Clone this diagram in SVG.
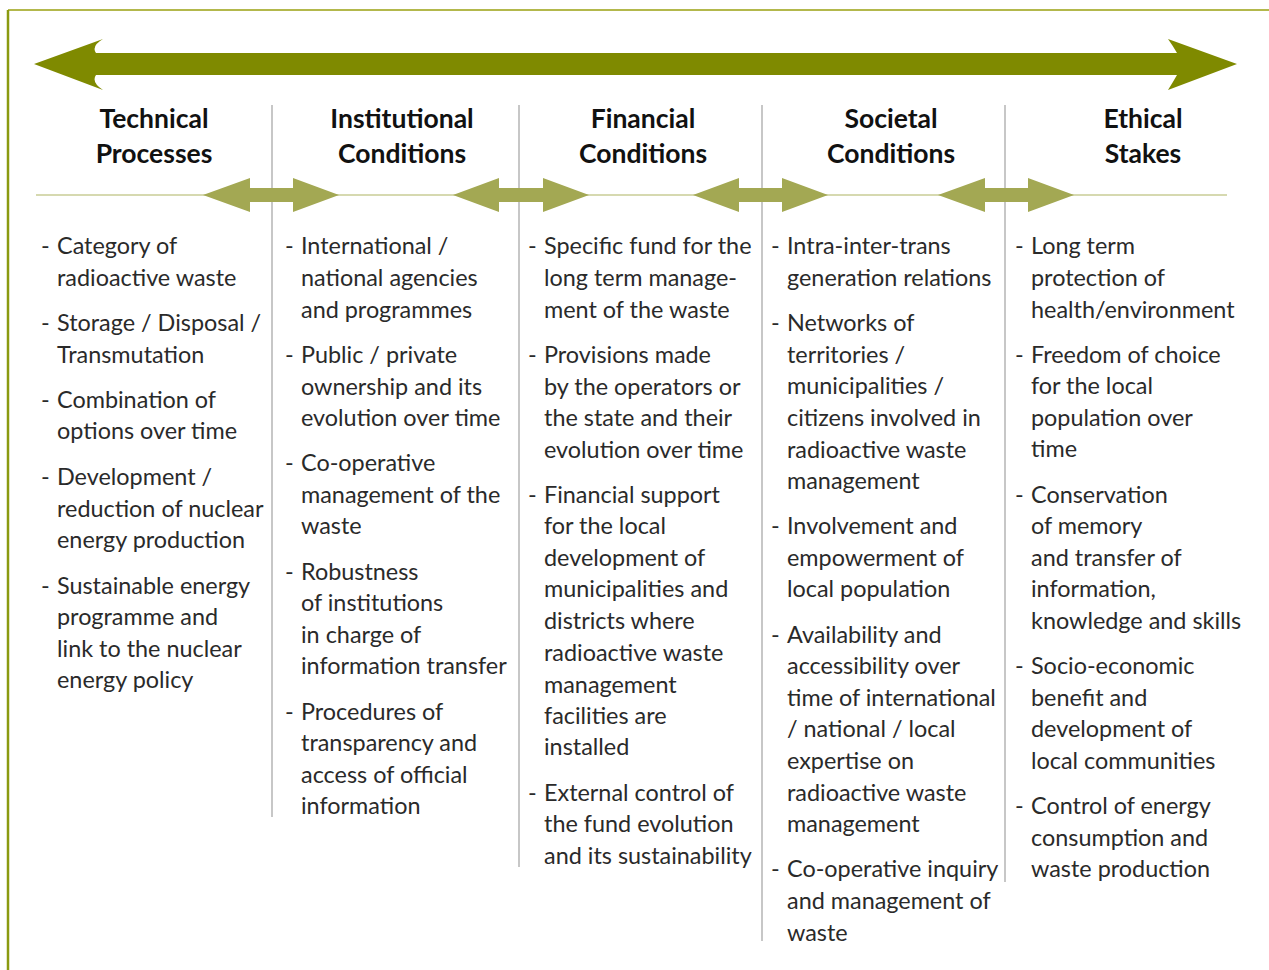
<svg xmlns="http://www.w3.org/2000/svg" width="1269" height="970" viewBox="0 0 1269 970">
<style>
.h{font-family:Lato,"Liberation Sans",sans-serif;font-weight:700;font-size:26.5px;fill:#111;text-anchor:middle}
.t{font-family:Lato,"Liberation Sans",sans-serif;font-weight:400;font-size:23.4px;fill:#2a2a2a}
.div{stroke:#b4b4b4;stroke-width:1.5}
.sa{fill:#a3a853}
</style>
<rect width="1269" height="970" fill="#fff"/>
<g id="frame">
<line x1="8" y1="10" x2="1269" y2="10" stroke="#9aa010" stroke-width="1.5"/>
<line x1="8" y1="10" x2="8" y2="970" stroke="#8a9a10" stroke-width="2.5"/>
</g>
<g id="connectors">
<path d="M34,64 L103,39 Q91,46 96,53 L1177,53 Q1173,46 1168,39 L1237,64 L1168,90 Q1173,82 1177,75 L96,75 Q91,82 103,90 Z" fill="#7f8a00"/>
<line x1="36" y1="195" x2="1227" y2="195" stroke="#c9cd96" stroke-width="1.5"/>
<line class="div" x1="272" y1="105" x2="272" y2="817"/>
<line class="div" x1="519" y1="105" x2="519" y2="867"/>
<line class="div" x1="762" y1="105" x2="762" y2="941"/>
<line class="div" x1="1005" y1="105" x2="1005" y2="882"/>
<path class="sa" d="M203,195 L250,178 L250,188 L293,188 L293,178 L339,195 L293,212 L293,202 L250,202 L250,212 Z"/>
<path class="sa" d="M453,195 L499,178 L499,188 L543,188 L543,178 L589,195 L543,212 L543,202 L499,202 L499,212 Z"/>
<path class="sa" d="M693,195 L739,178 L739,188 L782,188 L782,178 L828,195 L782,212 L782,202 L739,202 L739,212 Z"/>
<path class="sa" d="M938,195 L985,178 L985,188 L1028,188 L1028,178 L1074,195 L1028,212 L1028,202 L985,202 L985,212 Z"/>
</g>
<g id="technical">
<text class="h"><tspan x="154" y="128">Technical</tspan><tspan x="154" y="163">Processes</tspan></text>
<text class="t">
<tspan x="41" y="254">-</tspan><tspan x="57" y="254">Category of</tspan><tspan x="57" y="286">radioactive waste</tspan>
<tspan x="41" y="331">-</tspan><tspan x="57" y="331">Storage / Disposal /</tspan><tspan x="57" y="363">Transmutation</tspan>
<tspan x="41" y="408">-</tspan><tspan x="57" y="408">Combination of</tspan><tspan x="57" y="439">options over time</tspan>
<tspan x="41" y="485">-</tspan><tspan x="57" y="485">Development /</tspan><tspan x="57" y="517">reduction of nuclear</tspan><tspan x="57" y="548">energy production</tspan>
<tspan x="41" y="594">-</tspan><tspan x="57" y="594">Sustainable energy</tspan><tspan x="57" y="625">programme and</tspan><tspan x="57" y="657">link to the nuclear</tspan><tspan x="57" y="688">energy policy</tspan>
</text>
</g>
<g id="institutional">
<text class="h"><tspan x="402" y="128">Institutional</tspan><tspan x="402" y="163">Conditions</tspan></text>
<text class="t">
<tspan x="285" y="254">-</tspan><tspan x="301" y="254">International /</tspan><tspan x="301" y="286">national agencies</tspan><tspan x="301" y="318">and programmes</tspan>
<tspan x="285" y="363">-</tspan><tspan x="301" y="363">Public / private</tspan><tspan x="301" y="395">ownership and its</tspan><tspan x="301" y="426">evolution over time</tspan>
<tspan x="285" y="471">-</tspan><tspan x="301" y="471">Co-operative</tspan><tspan x="301" y="503">management of the</tspan><tspan x="301" y="534">waste</tspan>
<tspan x="285" y="580">-</tspan><tspan x="301" y="580">Robustness</tspan><tspan x="301" y="611">of institutions</tspan><tspan x="301" y="643">in charge of</tspan><tspan x="301" y="674">information transfer</tspan>
<tspan x="285" y="720">-</tspan><tspan x="301" y="720">Procedures of</tspan><tspan x="301" y="751">transparency and</tspan><tspan x="301" y="783">access of official</tspan><tspan x="301" y="814">information</tspan>
</text>
</g>
<g id="financial">
<text class="h"><tspan x="643" y="128">Financial</tspan><tspan x="643" y="163">Conditions</tspan></text>
<text class="t">
<tspan x="528" y="254">-</tspan><tspan x="544" y="254">Specific fund for the</tspan><tspan x="544" y="286">long term manage-</tspan><tspan x="544" y="318">ment of the waste</tspan>
<tspan x="528" y="363">-</tspan><tspan x="544" y="363">Provisions made</tspan><tspan x="544" y="395">by the operators or</tspan><tspan x="544" y="426">the state and their</tspan><tspan x="544" y="458">evolution over time</tspan>
<tspan x="528" y="503">-</tspan><tspan x="544" y="503">Financial support</tspan><tspan x="544" y="534">for the local</tspan><tspan x="544" y="566">development of</tspan><tspan x="544" y="597">municipalities and</tspan><tspan x="544" y="629">districts where</tspan><tspan x="544" y="661">radioactive waste</tspan><tspan x="544" y="693">management</tspan><tspan x="544" y="724">facilities are</tspan><tspan x="544" y="755">installed</tspan>
<tspan x="528" y="801">-</tspan><tspan x="544" y="801">External control of</tspan><tspan x="544" y="832">the fund evolution</tspan><tspan x="544" y="864">and its sustainability</tspan>
</text>
</g>
<g id="societal">
<text class="h"><tspan x="891" y="128">Societal</tspan><tspan x="891" y="163">Conditions</tspan></text>
<text class="t">
<tspan x="771" y="254">-</tspan><tspan x="787" y="254">Intra-inter-trans</tspan><tspan x="787" y="286">generation relations</tspan>
<tspan x="771" y="331">-</tspan><tspan x="787" y="331">Networks of</tspan><tspan x="787" y="363">territories /</tspan><tspan x="787" y="394">municipalities /</tspan><tspan x="787" y="426">citizens involved in</tspan><tspan x="787" y="458">radioactive waste</tspan><tspan x="787" y="489">management</tspan>
<tspan x="771" y="534">-</tspan><tspan x="787" y="534">Involvement and</tspan><tspan x="787" y="566">empowerment of</tspan><tspan x="787" y="597">local population</tspan>
<tspan x="771" y="643">-</tspan><tspan x="787" y="643">Availability and</tspan><tspan x="787" y="674">accessibility over</tspan><tspan x="787" y="706">time of international</tspan><tspan x="787" y="737">/ national / local</tspan><tspan x="787" y="769">expertise on</tspan><tspan x="787" y="801">radioactive waste</tspan><tspan x="787" y="832">management</tspan>
<tspan x="771" y="877">-</tspan><tspan x="787" y="877">Co-operative inquiry</tspan><tspan x="787" y="909">and management of</tspan><tspan x="787" y="941">waste</tspan>
</text>
</g>
<g id="ethical">
<text class="h"><tspan x="1143" y="128">Ethical</tspan><tspan x="1143" y="163">Stakes</tspan></text>
<text class="t">
<tspan x="1015" y="254">-</tspan><tspan x="1031" y="254">Long term</tspan><tspan x="1031" y="286">protection of</tspan><tspan x="1031" y="318">health/environment</tspan>
<tspan x="1015" y="363">-</tspan><tspan x="1031" y="363">Freedom of choice</tspan><tspan x="1031" y="394">for the local</tspan><tspan x="1031" y="426">population over</tspan><tspan x="1031" y="457">time</tspan>
<tspan x="1015" y="503">-</tspan><tspan x="1031" y="503">Conservation</tspan><tspan x="1031" y="534">of memory</tspan><tspan x="1031" y="566">and transfer of</tspan><tspan x="1031" y="597">information,</tspan><tspan x="1031" y="629">knowledge and skills</tspan>
<tspan x="1015" y="674">-</tspan><tspan x="1031" y="674">Socio-economic</tspan><tspan x="1031" y="706">benefit and</tspan><tspan x="1031" y="737">development of</tspan><tspan x="1031" y="769">local communities</tspan>
<tspan x="1015" y="814">-</tspan><tspan x="1031" y="814">Control of energy</tspan><tspan x="1031" y="846">consumption and</tspan><tspan x="1031" y="877">waste production</tspan>
</text>
</g>
</svg>
